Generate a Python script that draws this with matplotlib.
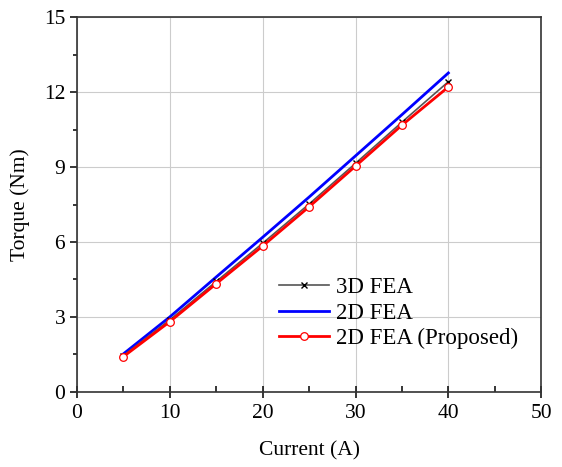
import numpy as np
import matplotlib.pyplot as plt
from matplotlib.ticker import MultipleLocator

plt.rcParams['font.family'] = ['Liberation Serif', 'DejaVu Serif']

# torque vs phase current
current    = [5, 10, 15, 20, 25, 30, 35, 40]
torque_3d  = [1.45, 2.88, 4.42, 5.95, 7.52, 9.15, 10.80, 12.42]
torque_2d  = [1.52, 3.00, 4.60, 6.19, 7.80, 9.45, 11.10, 12.77]
torque_new = [1.41, 2.81, 4.33, 5.84, 7.41, 9.04, 10.68, 12.21]

fig = plt.figure(figsize=(5.62, 4.67), dpi=100)
ax = fig.add_axes([0.137, 0.161, 0.826, 0.802])

ax.plot(current, torque_3d, color='#555555', lw=1.2, marker='x', ms=5,
        mec='black', mew=1.0, label='3D FEA', zorder=3)
ax.plot(current, torque_2d, color='blue', lw=2.0, label='2D FEA', zorder=2)
ax.plot(current, torque_new, color='red', lw=2.0, marker='o', ms=5.5,
        mfc='white', mec='red', mew=0.9, label='2D FEA (Proposed)', zorder=4)

ax.set_xlim(0, 50)
ax.set_ylim(0, 15)
ax.xaxis.set_major_locator(MultipleLocator(10))
ax.xaxis.set_minor_locator(MultipleLocator(5))
ax.yaxis.set_major_locator(MultipleLocator(3))
ax.yaxis.set_minor_locator(MultipleLocator(1.5))

ax.grid(True, which='major', color='#cccccc', lw=0.8)
ax.set_axisbelow(True)
for s in ax.spines.values():
    s.set_color('#333333')
    s.set_linewidth(1.2)

ax.tick_params(axis='x', which='major', direction='inout', length=8, width=1.1, labelsize=15.5, pad=5)
ax.tick_params(axis='x', which='minor', direction='in', length=4, width=1.1)
ax.tick_params(axis='y', which='major', direction='out', length=5, width=1.1, labelsize=15.5)
ax.tick_params(axis='y', which='minor', direction='out', length=3, width=1.1)

ax.set_xlabel('Current (A)', fontsize=15.5, labelpad=13)
ax.set_ylabel('Torque (Nm)', fontsize=15.5, labelpad=10)

ax.legend(loc='lower right', bbox_to_anchor=(0.995, 0.058), frameon=False,
          fontsize=16.5, handlelength=2.2, handletextpad=0.3, labelspacing=0.2)

fig.savefig('out.png', dpi=100)
